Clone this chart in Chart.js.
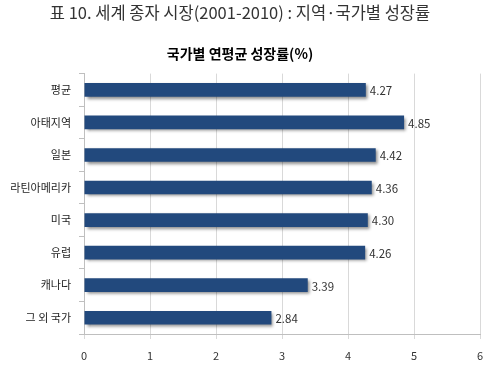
<!DOCTYPE html>
<html>
<head>
<meta charset="utf-8">
<script src="https://cdn.jsdelivr.net/npm/chart.js@4.4.0/dist/chart.umd.min.js"></script>
<style>
html,body{margin:0;padding:0;background:#fff;}
#wrap{width:500px;height:367px;}
</style>
</head>
<body>
<div id="wrap"><canvas id="c" width="500" height="367"></canvas></div>
<script>
const categories = ['평균', '아태지역', '일본', '라틴아메리카', '미국', '유럽', '캐나다', '그 외 국가'];
const growthRates = [4.27, 4.85, 4.42, 4.36, 4.30, 4.26, 3.39, 2.84];
const xTicks = [0, 1, 2, 3, 4, 5, 6];
const mainTitle = '표 10. 세계 종자 시장(2001-2010) : 지역·국가별 성장률';
const chartTitle = '국가별 연평균 성장률(%)';

const FONT = "'Noto Sans CJK KR', 'Noto Sans', sans-serif";

const shadowPlugin = {
  id: 'barShadow',
  beforeDatasetsDraw(chart) {
    const ctx = chart.ctx;
    ctx.save();
    ctx.shadowColor = 'rgba(0,0,0,0.45)';
    ctx.shadowBlur = 3;
    ctx.shadowOffsetX = 2;
    ctx.shadowOffsetY = 2;
  },
  afterDatasetsDraw(chart) {
    chart.ctx.restore();
  }
};

const labelPlugin = {
  id: 'valueLabels',
  afterDraw(chart) {
    const ctx = chart.ctx;
    const meta = chart.getDatasetMeta(0);
    ctx.save();
    ctx.font = '11.5px ' + FONT;
    ctx.fillStyle = '#333';
    ctx.textAlign = 'left';
    ctx.textBaseline = 'middle';
    meta.data.forEach((bar, i) => {
      ctx.fillText(growthRates[i].toFixed(2), bar.x + 4, bar.y + 1);
    });
    ctx.restore();
  }
};

new Chart(document.getElementById('c'), {
  type: 'bar',
  data: {
    labels: categories,
    datasets: [{
      data: growthRates,
      backgroundColor: '#22497d',
      borderWidth: 0,
      barPercentage: 0.42,
      categoryPercentage: 1.0
    }]
  },
  options: {
    indexAxis: 'y',
    responsive: false,
    animation: false,
    layout: { padding: { left: 0, right: 20, top: 0, bottom: 0 } },
    plugins: {
      legend: { display: false },
      tooltip: { enabled: false },
      title: {
        display: true,
        text: mainTitle,
        color: '#333',
        font: { family: FONT, size: 16.5, weight: 'normal' },
        padding: { top: 3, bottom: 22 }
      },
      subtitle: {
        display: true,
        text: chartTitle,
        color: '#000',
        font: { family: FONT, size: 14, weight: 'bold' },
        padding: { top: 0, bottom: 12 }
      }
    },
    scales: {
      x: {
        min: 0,
        max: 6,
        afterBuildTicks(scale) { scale.ticks = xTicks.map(v => ({ value: v })); },
        grid: { color: '#d9d9d9', tickLength: 5, drawTicks: true },
        border: { color: '#bfbfbf' },
        ticks: { color: '#333', font: { family: FONT, size: 11 }, padding: 10 },
        afterFit(scale) { scale.height = 33; }
      },
      y: {
        grid: { offset: true, drawOnChartArea: false, drawTicks: true, tickLength: 5, color: '#bfbfbf' },
        border: { color: '#bfbfbf' },
        ticks: { color: '#222', font: { family: FONT, size: 11 }, padding: 8 },
        afterFit(scale) { scale.width = 84; }
      }
    }
  },
  plugins: [shadowPlugin, labelPlugin]
});
</script>
</body>
</html>
